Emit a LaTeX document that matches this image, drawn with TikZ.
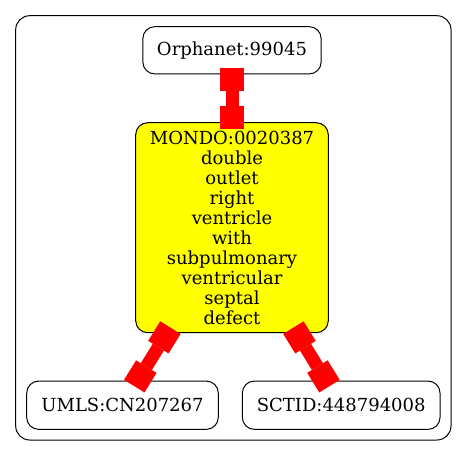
\documentclass[tikz,border=0pt]{standalone}
\usepackage{fontspec}
\setmainfont{DejaVu Serif}
\usetikzlibrary{arrows.meta}
\definecolor{nodeyellow}{RGB}{255,255,0}
\definecolor{linkred}{RGB}{255,0,0}
\begin{document}
\begin{tikzpicture}[x=1pt,y=-1pt,
  box/.style={draw=black, line width=1pt, rounded corners=12pt, inner sep=0pt, outer sep=0pt, align=center, font=\fontsize{18}{20}\selectfont},
  link/.style={draw=linkred, line width=13pt, {Square[length=23pt,width=24pt,line width=0pt]}-{Square[length=23pt,width=24pt,line width=0pt]}, shorten <=-6pt, shorten >=-6pt}]
\useasboundingbox (0,0) rectangle (467,456);
\draw[line width=1pt, rounded corners=14pt] (15.7,15.7) rectangle (451,440);
\node[box, minimum width=178.3pt, minimum height=47.3pt] (o) at (232,50.3) {Orphanet:99045};
\node[box, fill=nodeyellow, minimum width=192.6pt, minimum height=210pt] (m) at (232,227.7) {MONDO:0020387\\double\\outlet\\right\\ventricle\\with\\subpulmonary\\ventricular\\septal\\defect};
\node[box, minimum width=191.6pt, minimum height=48.3pt] (u) at (122.5,405.2) {UMLS:CN207267};
\node[box, minimum width=197.7pt, minimum height=48.3pt] (s) at (341.2,405.2) {SCTID:448794008};
\draw[link] (o) -- (m);
\draw[link] (m) -- (u);
\draw[link] (m) -- (s);
\end{tikzpicture}
\end{document}
